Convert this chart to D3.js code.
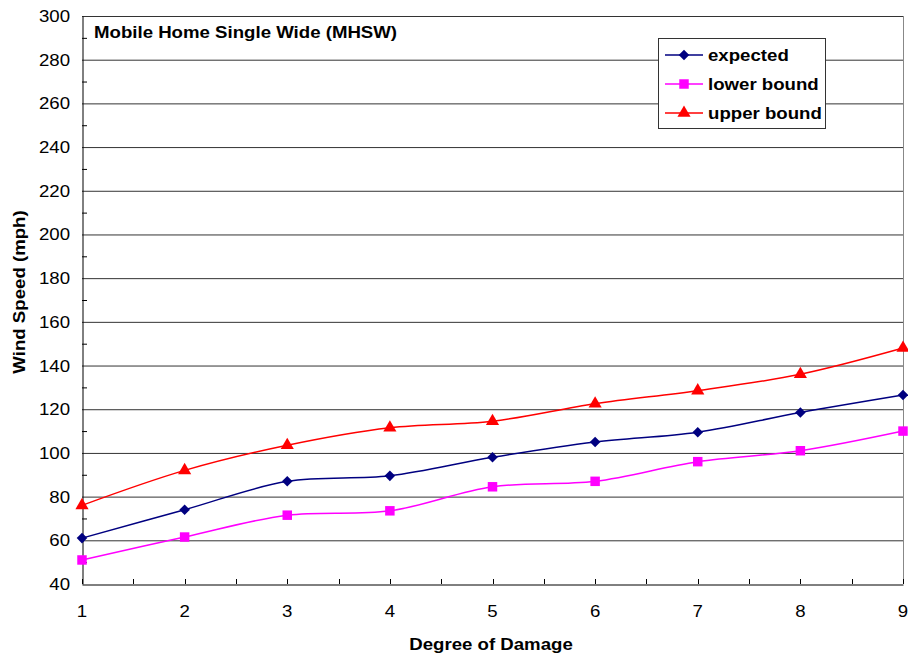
<!DOCTYPE html>
<html><head><meta charset="utf-8">
<script src="https://cdn.jsdelivr.net/npm/d3@7"></script>
<style>
body{margin:0;background:#fff;}
svg{display:block;font-family:"Liberation Sans",Arial,sans-serif;}
</style></head>
<body><svg id="c" width="908" height="656"></svg>
<script>
const categories = [1,2,3,4,5,6,7,8,9];
const expected   = [61, 74, 87, 89.5, 98, 105, 109.5, 118.5, 126.5];
const lowerBound = [51, 61.5, 71.5, 73.5, 84.5, 87, 96, 101, 110];
const upperBound = [76, 92, 103.5, 111.5, 114.5, 122.5, 128.5, 136, 148];
const yTicks = [40,60,80,100,120,140,160,180,200,220,240,260,280,300];
const title = "Mobile Home Single Wide (MHSW)";
const xTitle = "Degree of Damage";
const yTitle = "Wind Speed (mph)";

const squareDiamond = {draw(ctx, size){ const r=Math.sqrt(size/2); ctx.moveTo(0,-r); ctx.lineTo(r,0); ctx.lineTo(0,r); ctx.lineTo(-r,0); ctx.closePath(); }};

const series = [
  {name:"expected", values:expected, color:"#000080", sym:squareDiamond, size:56},
  {name:"lower bound", values:lowerBound, color:"#FF00FF", sym:d3.symbolSquare, size:90},
  {name:"upper bound", values:upperBound, color:"#FF0000", sym:d3.symbolTriangle, size:75}
];

const SX = 1.165;
const svg = d3.select("#c");
const L=82, R=903, T=16, B=584;
const x = d3.scaleLinear().domain([1,9]).range([L,R]);
const y = d3.scaleLinear().domain([40,300]).range([B,T]);

function stext(parent, px, py, txt, anchor, bold, rot){
  return parent.append("text")
    .attr("transform",`translate(${px},${py})${rot?` rotate(${rot})`:""} scale(${SX},1)`)
    .attr("text-anchor",anchor||"start")
    .attr("font-size",16)
    .attr("font-weight",bold?"bold":"normal")
    .attr("fill","#000")
    .text(txt);
}

// gridlines
svg.append("g").selectAll("line").data(yTicks.filter(d=>d>40)).join("line")
  .attr("x1",L).attr("x2",R).attr("y1",d=>y(d)+0.5).attr("y2",d=>y(d)+0.5)
  .attr("stroke","#333").attr("stroke-width",1);
// right border
svg.append("line").attr("x1",R+0.5).attr("x2",R+0.5).attr("y1",T).attr("y2",B)
  .attr("stroke","#888").attr("stroke-width",1);

// y axis
const yAxis = svg.append("g").attr("transform",`translate(${L+0.5},0)`)
  .call(d3.axisLeft(y).tickValues(yTicks).tickSize(0).tickFormat(""));
yAxis.select(".domain").attr("stroke","#000");
const yl = svg.append("g");
yTicks.forEach(t=>{ stext(yl, 70, y(t)+6, String(t), "end", false); });
// y minor ticks (inside)
svg.append("g").selectAll("line").data(d3.range(50,300,20)).join("line")
  .attr("x1",L).attr("x2",L+5).attr("y1",d=>y(d)+0.5).attr("y2",d=>y(d)+0.5)
  .attr("stroke","#000");

// x axis
const xAxis = svg.append("g").attr("transform",`translate(0,${B+0.5})`)
  .call(d3.axisBottom(x).tickValues(categories).tickSize(0).tickFormat(""));
xAxis.select(".domain").attr("stroke","#000");
const xl = svg.append("g");
categories.forEach(c=>{ stext(xl, x(c), 617, String(c), "middle", false); });
svg.append("g").selectAll("line").data(d3.range(1,9.01,0.5)).join("line")
  .attr("x1",d=>Math.round(x(d))+0.5).attr("x2",d=>Math.round(x(d))+0.5)
  .attr("y1",B).attr("y2",B-5).attr("stroke","#000");

// lines
const line = d3.line().x((d,i)=>x(categories[i])).y(d=>y(d)).curve(d3.curveCatmullRom.alpha(0.5));
series.forEach(s=>{
  svg.append("path").datum(s.values).attr("d",line)
    .attr("fill","none").attr("stroke",s.color).attr("stroke-width",1.5);
  svg.append("g").selectAll("path").data(s.values).join("path")
    .attr("transform",(d,i)=>`translate(${x(categories[i])},${y(d)})`)
    .attr("d",d3.symbol().type(s.sym).size(s.size)).attr("fill",s.color);
});

// title
stext(svg, 94, 38, title, "start", true);

// legend
const lg = svg.append("g");
lg.append("rect").attr("x",658.5).attr("y",38.5).attr("width",167).attr("height",90)
  .attr("fill","#fff").attr("stroke","#333");
series.forEach((s,i)=>{
  const cy = 55 + i*29;
  lg.append("line").attr("x1",665).attr("x2",703).attr("y1",cy).attr("y2",cy)
    .attr("stroke",s.color).attr("stroke-width",1.5);
  lg.append("path").attr("transform",`translate(684,${cy})`)
    .attr("d",d3.symbol().type(s.sym).size(s.size)).attr("fill",s.color);
  stext(lg, 708, cy+6, s.name, "start", true);
});

// axis titles
stext(svg, 491, 650, xTitle, "middle", true);
stext(svg, 25, 292, yTitle, "middle", true, -90);
</script></body></html>
